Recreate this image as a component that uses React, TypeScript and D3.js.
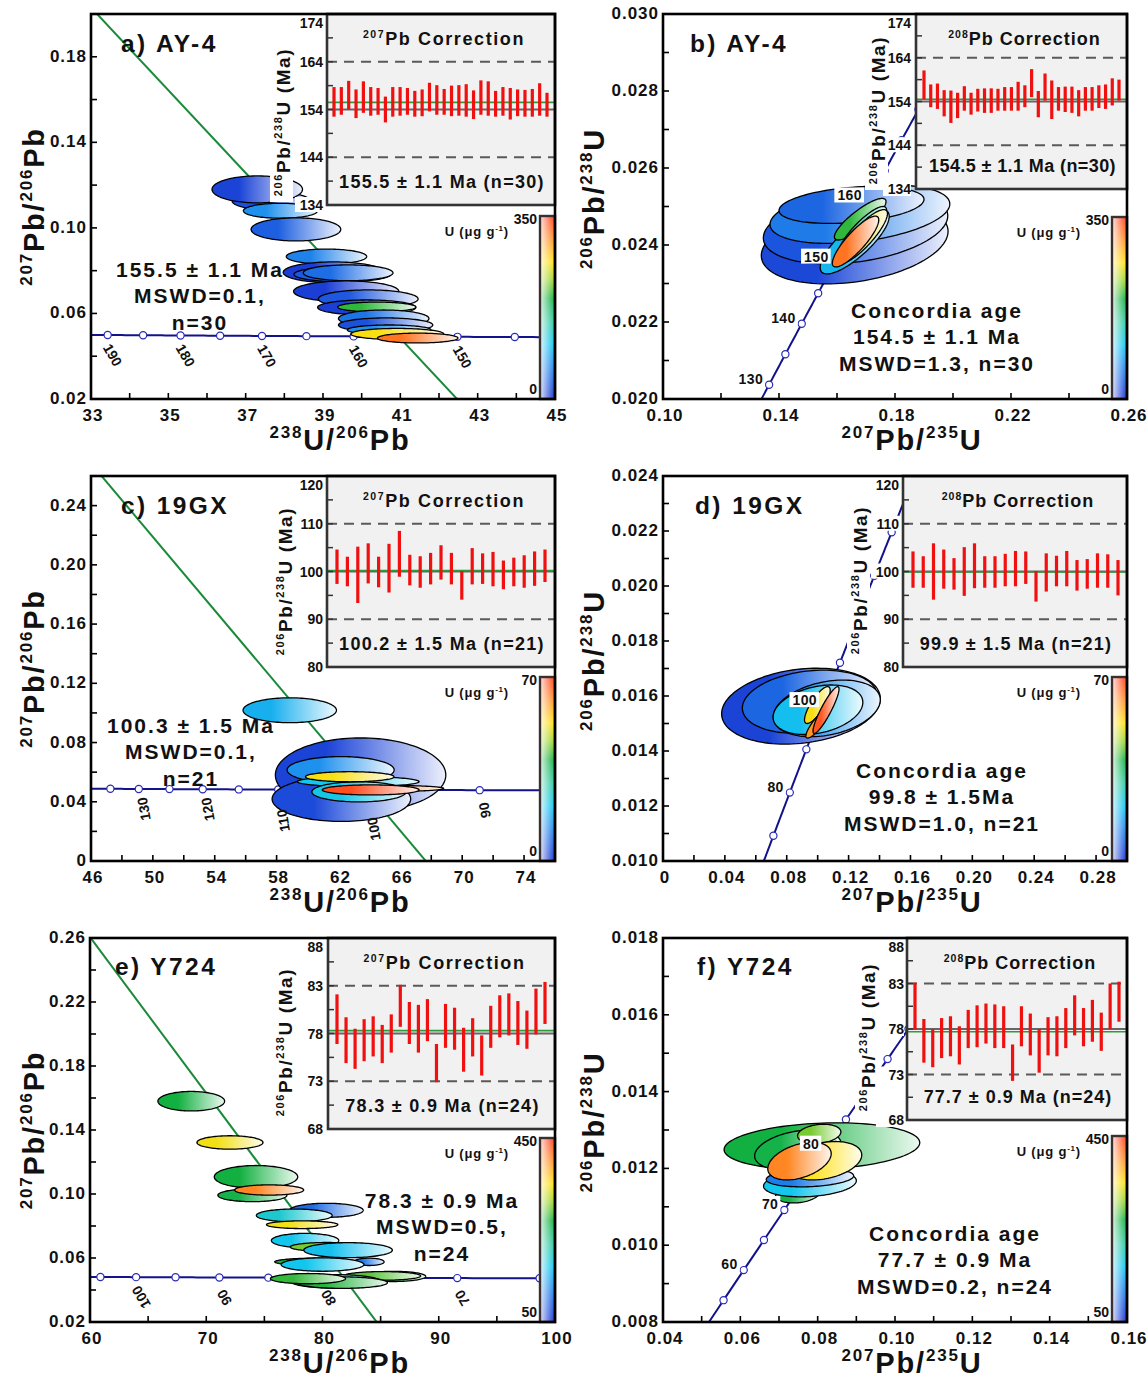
import React from "react";
import * as d3 from "d3";

// decay constants (per Ma) and 238U/235U
const L238 = 1.55125e-4;
const L235 = 9.8485e-4;
const U85 = 137.818;
const twX = (t: number) => 1 / (Math.exp(L238 * t) - 1);
const twY = (t: number) => (Math.exp(L235 * t) - 1) / (Math.exp(L238 * t) - 1) / U85;
const wetX = (t: number) => Math.exp(L235 * t) - 1;
const wetY = (t: number) => Math.exp(L238 * t) - 1;

const FONT = "'Liberation Sans', Arial, Helvetica, sans-serif";

// single-spot ages in the correction insets (Ma, 2s)
const insetAgeA = [155.6, 155.8, 157.0, 155.2, 156.6, 155.7, 155.7, 154.0, 155.6, 155.7, 155.7, 155.2, 155.4, 156.6, 156.0, 155.6, 155.8, 155.9, 155.9, 155.0, 156.5, 156.3, 155.2, 155.7, 155.2, 155.4, 155.3, 155.4, 156.1, 155.0];
const insetErrA = [3.1, 2.9, 3.0, 3.0, 3.3, 3.0, 2.8, 2.7, 3.1, 3.0, 2.8, 2.7, 2.8, 3.0, 3.1, 2.7, 3.2, 3.2, 3.4, 3.0, 3.6, 3.6, 2.7, 3.0, 3.3, 2.8, 2.8, 2.9, 3.4, 2.5];
const insetAgeB = [157.8, 155.3, 155.2, 153.6, 152.8, 153.1, 154.7, 153.5, 154.3, 154.2, 154.2, 154.4, 154.6, 154.6, 155.2, 155.2, 158.2, 153.4, 157.3, 154.4, 154.6, 154.5, 154.4, 153.6, 154.6, 154.6, 155.1, 155.1, 156.2, 156.6];
const insetErrB = [3.3, 2.6, 2.9, 3.0, 3.7, 2.9, 2.8, 2.5, 2.6, 2.8, 2.8, 2.5, 2.7, 2.7, 3.3, 2.5, 3.2, 3.0, 3.1, 4.4, 2.7, 2.9, 3.0, 3.0, 2.7, 2.7, 2.6, 2.8, 3.1, 2.4];
const insetAgeC = [101.0, 100.0, 99.3, 101.7, 99.9, 100.7, 103.7, 100.3, 99.9, 100.6, 101.9, 100.6, 97.1, 101.1, 100.6, 100.5, 99.3, 99.9, 100.0, 100.6, 101.2];
const insetErrC = [3.6, 3.1, 5.9, 4.2, 3.2, 5.1, 4.8, 3.2, 3.3, 3.3, 3.6, 3.3, 3.0, 3.8, 3.2, 3.6, 3.0, 3.0, 3.4, 3.6, 3.4];
const insetAgeD = [100.4, 99.9, 100.0, 100.5, 99.5, 100.0, 101.2, 99.9, 99.9, 100.3, 100.6, 100.8, 96.9, 99.8, 100.1, 100.6, 99.2, 99.5, 100.2, 100.1, 98.7];
const insetErrD = [3.8, 3.3, 5.9, 4.1, 3.3, 5.1, 4.7, 3.3, 3.3, 3.4, 3.7, 3.4, 3.2, 4.0, 3.2, 3.7, 3.2, 3.1, 3.6, 3.5, 3.7];
const insetAgeE = [79.5, 77.3, 76.4, 77.3, 77.7, 76.9, 78.0, 80.9, 79.1, 78.5, 79.4, 74.9, 78.8, 78.5, 76.3, 77.6, 75.7, 78.7, 79.8, 80.0, 79.1, 78.4, 80.3, 81.2];
const insetErrE = [2.6, 2.4, 2.1, 2.2, 2.1, 2.0, 2.0, 2.2, 2.2, 2.5, 2.2, 2.0, 2.3, 2.2, 2.3, 2.0, 2.1, 2.2, 2.2, 2.2, 2.3, 2.0, 2.4, 2.2];
const insetAgeF = [80.5, 76.7, 75.9, 77.0, 77.2, 76.2, 78.0, 78.3, 78.6, 78.3, 78.2, 74.3, 78.3, 77.4, 75.6, 77.2, 77.2, 78.1, 79.5, 78.2, 78.9, 77.7, 80.5, 81.0];
const insetErrF = [2.6, 2.4, 2.1, 2.2, 2.2, 2.1, 2.1, 2.3, 2.2, 2.4, 2.3, 2.0, 2.2, 2.3, 2.4, 2.1, 2.2, 2.2, 2.2, 2.1, 2.3, 2.1, 2.5, 2.2];

// error ellipses: [x, y, sx, sy, rho, U ppm]
const ellA = [
  [37.66, 0.1126, 1.01, 0.0042, 0, 25], [37.3, 0.118, 1.17, 0.0063, 0, 15], [37.9, 0.108, 0.96, 0.0035, 0, 70],
  [38.3, 0.0993, 1.16, 0.0054, 0, 35], [39.09, 0.0866, 1.04, 0.0035, 0, 60], [39.27, 0.0792, 1.3, 0.0049, 0, 10],
  [39.5, 0.0783, 1.25, 0.0035, 0, 30], [39.65, 0.079, 1.16, 0.0037, 0, 45], [39.6, 0.0703, 1.36, 0.0049, 0, 12],
  [40.17, 0.0668, 1.29, 0.0042, 0, 30], [40.13, 0.0628, 1.27, 0.0035, 0, 12], [40.39, 0.063, 1.01, 0.0023, 0, 200],
  [40.57, 0.0576, 1.17, 0.004, 0, 50], [40.62, 0.0546, 1.22, 0.0033, 0, 25], [40.71, 0.0523, 1.08, 0.0023, 0, 70],
  [40.92, 0.0504, 1.2, 0.0026, 0, 260], [41.45, 0.0485, 1.04, 0.0023, 0, 320],
];
const ellB = [
  [0.1661, 0.02404, 0.0322, 0.00105, 0.3, 18], [0.1664, 0.02447, 0.0318, 0.00096, 0.3, 28],
  [0.1679, 0.0248, 0.031, 0.00076, 0.35, 55], [0.165, 0.02504, 0.025, 0.00048, 0.3, 40],
  [0.1661, 0.02408, 0.0119, 0.00083, 0.8, 95], [0.168, 0.02467, 0.0089, 0.00054, 0.85, 200],
  [0.1688, 0.02435, 0.0083, 0.00065, 0.85, 140], [0.1688, 0.02422, 0.0086, 0.0007, 0.85, 255],
  [0.1664, 0.02409, 0.008, 0.00066, 0.85, 320],
];
const ellC = [
  [63.43, 0.0581, 5.51, 0.025, 0, 3], [62.19, 0.0419, 4.48, 0.0152, 0, 4], [58.85, 0.1018, 3.02, 0.0084, 0, 18],
  [62.14, 0.0615, 3.46, 0.009, 0, 14], [63.27, 0.0536, 3.94, 0.0034, 0, 21], [63.32, 0.0467, 3.04, 0.0068, 0, 22],
  [62.73, 0.0569, 2.86, 0.0034, 0, 52], [65.5, 0.049, 3.3, 0.002, 0, 62], [64.08, 0.048, 3.13, 0.0034, 0, 68],
];
const ellD = [
  [0.0892, 0.01563, 0.0513, 0.00138, 0.2, 3], [0.0948, 0.01579, 0.0435, 0.00115, 0.2, 8],
  [0.1059, 0.01555, 0.0346, 0.00103, 0.3, 14], [0.1002, 0.0155, 0.029, 0.0009, 0.3, 20],
  [0.0998, 0.01567, 0.0083, 0.00067, 0.8, 52], [0.0997, 0.01498, 0.0073, 0.00051, 0.85, 60],
  [0.1054, 0.01549, 0.0084, 0.00085, 0.9, 67],
];
const ellE = [
  [68.71, 0.158, 2.87, 0.0061, 0, 270], [72.04, 0.1322, 2.84, 0.0042, 0, 345], [74.28, 0.1107, 3.59, 0.0071, 0, 270],
  [73.97, 0.0992, 2.97, 0.004, 0, 265], [75.41, 0.1025, 2.97, 0.0032, 0, 405], [80.34, 0.0898, 3.16, 0.0044, 0, 100],
  [77.57, 0.0866, 3.26, 0.004, 0, 190], [78.25, 0.0808, 3.07, 0.0024, 0, 345], [78.5, 0.0709, 2.9, 0.0045, 0, 170],
  [80.4, 0.0669, 3.17, 0.0028, 0, 300], [82.2, 0.0649, 3.81, 0.0047, 0, 165], [84.0, 0.0576, 1.3, 0.0023, 0, 110],
  [79.44, 0.0576, 3.55, 0.0023, 0, 270], [80.0, 0.0559, 3.56, 0.0042, 0, 170], [86.08, 0.0485, 2.8, 0.0032, 0, 270],
  [85.14, 0.0488, 3.3, 0.0027, 0, 290], [81.12, 0.0454, 3.88, 0.0042, 0, 165], [81.7, 0.0446, 3.88, 0.0036, 0, 275],
  [78.75, 0.0471, 3.23, 0.0032, 0, 280],
];
const ellF = [
  [0.0811, 0.01258, 0.0253, 0.000607, 0.15, 270], [0.0749, 0.01248, 0.0112, 0.00052, 0.3, 265],
  [0.0804, 0.0129, 0.0056, 0.00025, 0.2, 300], [0.0749, 0.01136, 0.0058, 0.00026, 0.2, 265],
  [0.078, 0.01161, 0.012, 0.00035, 0.2, 170], [0.078, 0.01176, 0.0113, 0.00024, 0.2, 115],
  [0.0816, 0.0122, 0.0098, 0.0005, 0.3, 350], [0.0753, 0.01219, 0.0082, 0.00049, 0.4, 405],
];

// labelled concordia ages
const concLabA = [190, 180, 170, 160, 150];
const concLabB = [130, 140, 150, 160];
const concLabC = [130, 120, 110, 100, 90];
const concLabD = [80, 100];
const concLabE = [100, 90, 80, 70];
const concLabF = [60, 70, 80];

const CMAP_STOPS = [0, 0.1, 0.2, 0.3, 0.42, 0.55, 0.65, 0.75, 0.87, 1];
const CMAP_COLORS = ["#1a2fd0", "#1d5fe0", "#1e90ee", "#12c6ee", "#2cc9a0", "#12b040", "#98d42c", "#ffe012", "#ff9224", "#ff3a1c"];
const cmap = d3.scaleLinear<string>().domain(CMAP_STOPS).range(CMAP_COLORS).interpolate(d3.interpolateRgb);

const steps = (a: number, b: number, s: number) =>
  d3.range(Math.round((b - a) / s) + 1).map((i) => +(a + i * s).toFixed(6));

type Seg = [string, boolean];
const SUP = (a: string, b: string, c: string, d: string): Seg[] => [[a, true], [b, false], [c, true], [d, false]];

function Rich({ segs, size, sup, ...rest }: any) {
  let raised = false;
  const shift = size * 0.4;
  return (
    <text fontSize={size} fontWeight="bold" {...rest}>
      {segs.map(([t, s]: Seg, i: number) => {
        let dy = 0;
        if (s && !raised) { dy = -shift; raised = true; }
        else if (!s && raised) { dy = shift; raised = false; }
        return <tspan key={i} dy={dy} fontSize={s ? sup : size}>{t}</tspan>;
      })}
    </text>
  );
}

const PANELS: any[] = [
  {
    id: "a", kind: "tw", box: [91, 14, 555, 399], xDom: [33, 45], yDom: [0.02, 0.2],
    xMajor: steps(33, 45, 2), xMinor: 1, yMajor: steps(0.02, 0.18, 0.04), yMinor: 0.02,
    xFmt: (d: number) => String(d), yFmt: (d: number) => d.toFixed(2),
    ell: ellA, uDom: [0, 350], concStep: 5, concLab: concLabA, labRot: 60, labDy: {},
    common: 0.841, age: 155.5, tag: "a) AY-4", tagPos: [121, 52],
    result: ["155.5 \u00b1 1.1 Ma", "MSWD=0.1,", "n=30"], resPos: [200, 277],
    inset: { box: [327, 14, 555, 205], dom: [134, 174], major: [134, 144, 154, 164, 174], minor: [139, 149, 159, 169], dashed: [144, 164], ref: 154, mean: 155.5, ages: insetAgeA, errs: insetErrA, iso: "207", text: "155.5 \u00b1 1.1 Ma (n=30)", ylab: [290, 122], pad: [7, 8], labX: 323, ls: 1.3 },
    cb: ["350", "0", 216],
  },
  {
    id: "b", kind: "wet", box: [663, 14, 1127, 399], xDom: [0.1, 0.26], yDom: [0.02, 0.03],
    xMajor: steps(0.1, 0.26, 0.04), xMinor: 0.02, yMajor: steps(0.02, 0.03, 0.002), yMinor: 0.001,
    xFmt: (d: number) => d.toFixed(2), yFmt: (d: number) => d.toFixed(3),
    ell: ellB, uDom: [0, 350], concStep: 5, concLab: concLabB,
    tag: "b) AY-4", tagPos: [690, 52],
    result: ["Concordia age", "154.5 \u00b1 1.1 Ma", "MSWD=1.3, n=30"], resPos: [937, 318],
    inset: { box: [916, 14, 1127, 189], dom: [134, 174], major: [134, 144, 154, 164, 174], minor: [139, 149, 159, 169], dashed: [144, 164], ref: 154, mean: 154.5, ages: insetAgeB, errs: insetErrB, iso: "208", text: "154.5 \u00b1 1.1 Ma (n=30)", ylab: [885, 110], pad: [8, 8], labX: 911, ls: 0.4 },
    cb: ["350", "0", 217],
  },
  {
    id: "c", kind: "tw", box: [91, 476, 555, 861], xDom: [46, 76], yDom: [0, 0.26],
    xMajor: steps(46, 74, 4), xMinor: 2, yMajor: steps(0, 0.24, 0.04), yMinor: 0.02,
    xFmt: (d: number) => String(d), yFmt: (d: number) => (d === 0 ? "0" : d.toFixed(2)),
    ell: ellC, uDom: [0, 70], concStep: 5, concLab: concLabC, labRot: 260, labDy: { 110: 31, 100: 39 },
    common: 0.839, age: 100.3, tag: "c) 19GX", tagPos: [121, 514],
    result: ["100.3 \u00b1 1.5 Ma", "MSWD=0.1,", "n=21"], resPos: [191, 733],
    inset: { box: [327, 476, 555, 667], dom: [80, 120], major: [80, 90, 100, 110, 120], minor: [85, 95, 105, 115], dashed: [90, 110], ref: 100, mean: 100.2, ages: insetAgeC, errs: insetErrC, iso: "207", text: "100.2 \u00b1 1.5 Ma (n=21)", ylab: [292, 581], pad: [10, 10], labX: 323, ls: 1.3 },
    cb: ["70", "0", 677],
  },
  {
    id: "d", kind: "wet", box: [663, 476, 1127, 861], xDom: [0, 0.3], yDom: [0.01, 0.024],
    xMajor: steps(0, 0.28, 0.04), xMinor: 0.02, yMajor: steps(0.01, 0.024, 0.002), yMinor: 0.001,
    xFmt: (d: number) => (d === 0 ? "0" : d.toFixed(2)), yFmt: (d: number) => d.toFixed(3),
    ell: ellD, uDom: [0, 70], concStep: 10, concLab: concLabD,
    tag: "d) 19GX", tagPos: [695, 514],
    result: ["Concordia age", "99.8 \u00b1 1.5Ma", "MSWD=1.0, n=21"], resPos: [942, 778],
    inset: { box: [903, 476, 1127, 667], dom: [80, 120], major: [80, 90, 100, 110, 120], minor: [85, 95, 105, 115], dashed: [90, 110], ref: 100, mean: 99.9, ages: insetAgeD, errs: insetErrD, iso: "208", text: "99.9 \u00b1 1.5 Ma (n=21)", ylab: [867, 580], pad: [10, 9], labX: 899, ls: 1.2 },
    cb: ["70", "0", 677],
  },
  {
    id: "e", kind: "tw", box: [90, 938, 555, 1322], xDom: [60, 100], yDom: [0.02, 0.26],
    xMajor: steps(60, 100, 10), xMinor: 5, yMajor: steps(0.02, 0.26, 0.04), yMinor: 0.02,
    xFmt: (d: number) => String(d), yFmt: (d: number) => d.toFixed(2),
    ell: ellE, uDom: [50, 450], concStep: 5, concLab: concLabE, labRot: 240, labDy: {},
    common: 0.846, age: 78.3, tag: "e) Y724", tagPos: [115, 975],
    result: ["78.3 \u00b1 0.9 Ma", "MSWD=0.5,", "n=24"], resPos: [442, 1208],
    inset: { box: [328, 938, 555, 1129], dom: [68, 88], major: [68, 73, 78, 83, 88], minor: [70.5, 75.5, 80.5, 85.5], dashed: [73, 83], ref: 78, mean: 78.3, ages: insetAgeE, errs: insetErrE, iso: "207", text: "78.3 \u00b1 0.9 Ma (n=24)", ylab: [292, 1042], pad: [9, 10], labX: 323, ls: 1.3 },
    cb: ["450", "50", 1138],
  },
  {
    id: "f", kind: "wet", box: [663, 938, 1127, 1322], xDom: [0.04, 0.16], yDom: [0.008, 0.018],
    xMajor: steps(0.04, 0.16, 0.02), xMinor: 0.01, yMajor: steps(0.008, 0.018, 0.002), yMinor: 0.001,
    xFmt: (d: number) => d.toFixed(2), yFmt: (d: number) => d.toFixed(3),
    ell: ellF, uDom: [50, 450], concStep: 5, concLab: concLabF,
    tag: "f) Y724", tagPos: [697, 975],
    result: ["Concordia age", "77.7 \u00b1 0.9 Ma", "MSWD=0.2, n=24"], resPos: [955, 1241],
    inset: { box: [907, 938, 1127, 1120], dom: [68, 88], major: [68, 73, 78, 83, 88], minor: [70.5, 75.5, 80.5, 85.5], dashed: [73, 83], ref: 78, mean: 77.7, ages: insetAgeF, errs: insetErrF, iso: "208", text: "77.7 \u00b1 0.9 Ma (n=24)", ylab: [875, 1037], pad: [8, 8], labX: 904, ls: 1.0 },
    cb: ["450", "50", 1136],
  },
];

function Inset({ ins }: any) {
  const [ix0, iy0, ix1, iy1] = ins.box;
  const iy = d3.scaleLinear().domain(ins.dom).range([iy1, iy0]);
  const ix = d3.scalePoint<number>().domain(d3.range(ins.ages.length)).range([ix0 + ins.pad[0], ix1 - ins.pad[1]]);
  const [lx, ly] = ins.ylab;
  const narrow = ix1 - ix0 < 226;
  return (
    <g>
      <rect x={ix0} y={iy0} width={ix1 - ix0} height={iy1 - iy0} fill="#f1f1f1" />
      {ins.dashed.map((v: number) => (
        <line key={v} x1={ix0} x2={ix1} y1={iy(v)} y2={iy(v)} stroke="#5a5a5a" strokeWidth={2.2} strokeDasharray="10 7" />
      ))}
      <line x1={ix0} x2={ix1} y1={iy(ins.ref)} y2={iy(ins.ref)} stroke="#666" strokeWidth={2} />
      <line x1={ix0} x2={ix1} y1={iy(ins.mean)} y2={iy(ins.mean)} stroke="#2e9a3a" strokeWidth={1.6} />
      {ins.ages.map((a: number, i: number) => (
        <line key={i} x1={ix(i)} x2={ix(i)} y1={iy(a - ins.errs[i])} y2={iy(a + ins.errs[i])} stroke="#f01010" strokeWidth={3.2} />
      ))}
      {[...ins.major, ...ins.minor].map((v: number) => (
        <line key={"t" + v} x1={ix0} x2={ix0 + 6} y1={iy(v)} y2={iy(v)} stroke="#333" strokeWidth={1.5} />
      ))}
      <rect x={ix0} y={iy0} width={ix1 - ix0} height={iy1 - iy0} fill="none" stroke="#333" strokeWidth={2.6} />
      {ins.major.map((v: number) => {
        const yy = Math.max(iy(v), iy0 + 9);
        return (
          <g key={"l" + v}>
            <rect x={ins.labX - 28} y={yy - 8} width={28} height={15} fill="#fff" />
            <text x={ins.labX} y={yy + 5} textAnchor="end" fontSize={14} fontWeight="bold">{v}</text>
          </g>
        );
      })}
      <Rich segs={[[ins.iso, true], ["Pb Correction", false]]} size={18} sup={10.5} x={(ix0 + ix1) / 2 + 3} y={iy0 + 31} textAnchor="middle" letterSpacing={narrow ? 1 : 1.6} />
      <text x={(ix0 + ix1) / 2 + 1} y={iy1 - 17} textAnchor="middle" fontSize={18} fontWeight="bold" letterSpacing={ins.ls}>{ins.text}</text>
      <g transform={`translate(${lx},${ly}) rotate(-90)`}>
        <rect x={-80} y={-20} width={160} height={23} fill="#fff" />
        <Rich segs={[["206", true], ["Pb/", false], ["238", true], ["U (Ma)", false]]} size={19} sup={11} x={0} y={0} textAnchor="middle" letterSpacing={1.6} />
      </g>
    </g>
  );
}

function Panel({ p }: any) {
  const [x0, y0, x1, y1] = p.box;
  const x = d3.scaleLinear().domain(p.xDom).range([x0, x1]);
  const y = d3.scaleLinear().domain(p.yDom).range([y1, y0]);
  const tw = p.kind === "tw";
  const fx = tw ? twX : wetX;
  const fy = tw ? twY : wetY;
  const inside = (t: number) => {
    const a = fx(t), b = fy(t);
    return a >= p.xDom[0] && a <= p.xDom[1] && b >= p.yDom[0] && b <= p.yDom[1];
  };
  const line = d3.line();
  const conc = line(d3.range(tw ? 30 : 1, 400, 0.5).map((t) => [x(fx(t)), y(fy(t))]) as any);
  const circles = d3.range(p.concStep, 400, p.concStep).filter(inside);
  const u = d3.scaleLinear().domain(p.uDom).range([0, 1]).clamp(true);

  let disc: string | null = null;
  if (tw) {
    const m = (twY(p.age) - p.common) / twX(p.age);
    disc = line([[x(p.xDom[0]), y(p.common + m * p.xDom[0])], [x(p.xDom[1]), y(p.common + m * p.xDom[1])]] as any);
  }

  const ellPath = (e: number[]) => {
    const [cx, cy, sx, sy, r] = e;
    const k = Math.sqrt(1 - r * r);
    const pts = d3.range(0, 360, 3).map((a) => {
      const th = (a * Math.PI) / 180;
      return [x(cx + sx * Math.cos(th)), y(cy + sy * (r * Math.cos(th) + k * Math.sin(th)))];
    });
    return d3.line().curve(d3.curveLinearClosed)(pts as any);
  };

  const xMinor = steps(p.xDom[0], p.xDom[1], p.xMinor);
  const yMinor = steps(p.yDom[0], p.yDom[1], p.yMinor);
  const cbx0 = x1 - 15;
  const cby0 = p.cb[2];
  const clip = `clip-${p.id}`;

  return (
    <g>
      <defs>
        <clipPath id={clip}>
          <rect x={x0} y={y0} width={x1 - x0} height={y1 - y0} />
        </clipPath>
        {p.ell.map((e: number[], i: number) => {
          const c = cmap(u(e[5]));
          return (
            <linearGradient key={i} id={`${p.id}-g${i}`} x1="0" x2="1" y1="0" y2="0">
              <stop offset="0" stopColor={c} />
              <stop offset="0.3" stopColor={c} />
              <stop offset="1" stopColor={d3.interpolateRgb(c, "#ffffff")(0.92)} />
            </linearGradient>
          );
        })}
        <linearGradient id={`${p.id}-cb`} x1="0" y1="1" x2="0" y2="0">
          {CMAP_STOPS.map((s, i) => <stop key={i} offset={s} stopColor={CMAP_COLORS[i]} />)}
        </linearGradient>
        <linearGradient id={`${p.id}-cbw`} x1="0" x2="1" y1="0" y2="0">
          <stop offset="0" stopColor="#fff" stopOpacity={0.85} />
          <stop offset="1" stopColor="#fff" stopOpacity={0} />
        </linearGradient>
      </defs>

      <g clipPath={`url(#${clip})`}>
        <path d={conc as string} fill="none" stroke="#12128a" strokeWidth={2} />
        {disc && <path d={disc} fill="none" stroke="#1a8a3a" strokeWidth={2} />}
        {circles.map((t) => (
          <circle key={t} cx={x(fx(t))} cy={y(fy(t))} r={3.6} fill="#fff" stroke="#2a2ab8" strokeWidth={1.2} />
        ))}
        {p.ell.map((e: number[], i: number) => (
          <path key={i} d={ellPath(e) as string} fill={`url(#${p.id}-g${i})`} stroke="#000" strokeWidth={1.3} />
        ))}
      </g>

      {p.concLab.map((t: number) => {
        const px = x(fx(t)), py = y(fy(t));
        if (tw) {
          const lx = px + 5, ly = py + (p.labDy[t] ?? 20);
          return (
            <text key={t} x={lx} y={ly} transform={`rotate(${p.labRot},${lx},${ly})`} textAnchor="middle" dominantBaseline="central" fontSize={14} fontWeight="bold">{t}</text>
          );
        }
        const s = String(t);
        const w = s.length * 8.2 + 3;
        return (
          <g key={t}>
            <rect x={px - 6 - w} y={py - 14} width={w + 2} height={15} fill="#fff" />
            <text x={px - 6} y={py - 1} textAnchor="end" fontSize={14} fontWeight="bold" letterSpacing={0.4}>{s}</text>
          </g>
        );
      })}

      <Inset ins={p.inset} />

      <rect x={cbx0} y={cby0} width={x1 - cbx0} height={y1 - cby0} fill={`url(#${p.id}-cb)`} />
      <rect x={cbx0} y={cby0} width={x1 - cbx0} height={y1 - cby0} fill={`url(#${p.id}-cbw)`} />
      <rect x={cbx0} y={cby0} width={x1 - cbx0} height={y1 - cby0} fill="none" stroke="#3a3030" strokeWidth={2.4} />
      <text x={cbx0 - 3} y={cby0 + 8} textAnchor="end" fontSize={14} fontWeight="bold">{p.cb[0]}</text>
      <text x={cbx0 - 3} y={y1 - 5} textAnchor="end" fontSize={14} fontWeight="bold">{p.cb[1]}</text>
      <Rich segs={[["U (\u03bcg g", false], ["-1", true], [")", false]]} size={13} sup={8} x={cbx0 - 31} y={cby0 + 20} textAnchor="end" letterSpacing={0.8} />

      <text x={p.tagPos[0]} y={p.tagPos[1]} fontSize={24.5} fontWeight="bold" letterSpacing={2.4}>{p.tag}</text>
      {p.result.map((s: string, i: number) => (
        <text key={i} x={p.resPos[0]} y={p.resPos[1] + i * 26.3} textAnchor="middle" fontSize={21} fontWeight="bold" letterSpacing={2}>{s}</text>
      ))}

      {xMinor.map((v) => <line key={"xt" + v} x1={x(v)} x2={x(v)} y1={y1} y2={y1 - 6} stroke="#000" strokeWidth={1.6} />)}
      {yMinor.map((v) => <line key={"yt" + v} x1={x0} x2={x0 + 6} y1={y(v)} y2={y(v)} stroke="#000" strokeWidth={1.6} />)}
      <rect x={x0} y={y0} width={x1 - x0} height={y1 - y0} fill="none" stroke="#000" strokeWidth={2.6} />
      {p.xMajor.map((v: number) => (
        <text key={"xl" + v} x={x(v) + 2} y={y1 + 22} textAnchor="middle" fontSize={17} fontWeight="bold" letterSpacing={1}>{p.xFmt(v)}</text>
      ))}
      {p.yMajor.map((v: number) => (
        <text key={"yl" + v} x={x0 - 4} y={y(v) + 5} textAnchor="end" fontSize={17} fontWeight="bold" letterSpacing={1}>{p.yFmt(v)}</text>
      ))}
      <Rich
        segs={tw ? SUP("238", "U/", "206", "Pb") : SUP("207", "Pb/", "235", "U")}
        size={29} sup={17} x={(x0 + x1) / 2 + 17} y={y1 + 51} textAnchor="middle" letterSpacing={1.8}
      />
      <g transform={`translate(${tw ? 44 : 604},${(y0 + y1) / 2 - (tw ? 0 : 8)}) rotate(-90)`}>
        <Rich segs={tw ? SUP("207", "Pb/", "206", "Pb") : SUP("206", "Pb/", "238", "U")} size={29} sup={17} x={0} y={0} textAnchor="middle" letterSpacing={1.8} />
      </g>
    </g>
  );
}

export default function App() {
  return (
    <svg
      width={1148}
      height={1380}
      style={{ position: "absolute", left: 0, top: 0, fontFamily: FONT }}
      fontFamily={FONT}
      fill="#111"
    >
      <rect width={1148} height={1380} fill="#fff" />
      {PANELS.map((p) => <Panel key={p.id} p={p} />)}
    </svg>
  );
}
